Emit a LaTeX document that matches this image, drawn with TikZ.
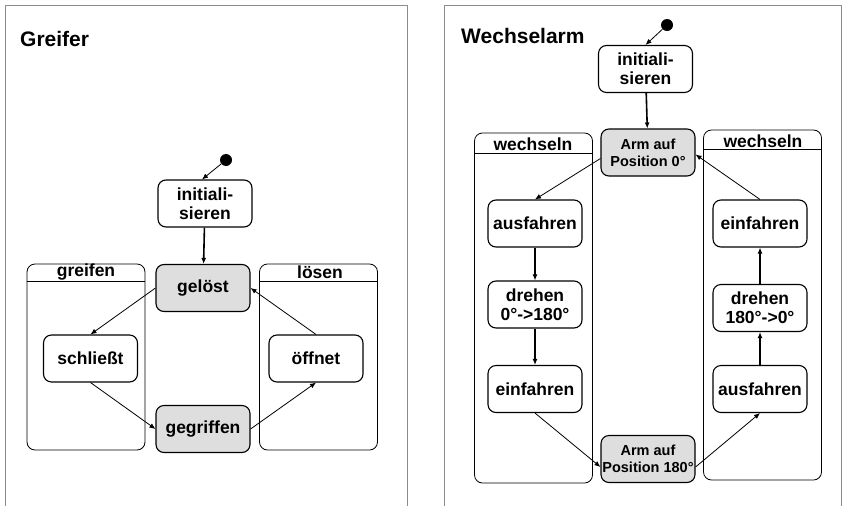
\documentclass[tikz,border=0pt]{standalone}
\usepackage{fontspec}
\setmainfont{Liberation Sans}
\usetikzlibrary{arrows.meta}

\tikzset{
  zustand/.style={draw, line width=1.1pt, rounded corners=8, minimum width=94, minimum height=47,
    inner sep=0pt, align=center, font=\fontsize{17.5}{19}\selectfont\bfseries},
  aktiv/.style={zustand, fill=black!13},
  armzustand/.style={aktiv, font=\fontsize{14.5}{17}\selectfont\bfseries},
  ober/.style={draw, line width=0.8pt, rounded corners=8, inner sep=0pt, minimum width=118},
  oberlabel/.style={inner sep=0pt, font=\fontsize{17.5}{19}\selectfont\bfseries},
  titel/.style={anchor=west, inner sep=0pt, font=\fontsize{21}{24}\selectfont\bfseries},
  start/.style={circle, fill=black, inner sep=0pt, minimum size=12},
  ueber/.style={-{Latex[length=6pt,width=5pt]}, line width=0.8pt},
  schritt/.style={-{Latex[length=6pt,width=5pt]}, line width=1.6pt},
}

\begin{document}
\begin{tikzpicture}[x=1pt,y=-1pt]
    \useasboundingbox (0,0) rectangle (842,506);

    % Rahmen
    \draw[black!45, line width=0.8pt] (5,506) -- (5,5) -- (407,5) -- (407,506);
    \draw[black!45, line width=0.8pt] (444,506) -- (444,5) -- (841,5) -- (841,506);

    % Greifer
    \node[titel] (tgreifer) at (20,39) {Greifer};

    \node[ober, minimum height=186] (greifen) at (86,357) {};
    \node[ober, minimum height=186] (loesen) at (318.5,357) {};
    \draw[line width=1.6pt] ([yshift=-18pt]greifen.north west) -- ([yshift=-18pt]greifen.north east);
    \draw[line width=1.6pt] ([yshift=-18pt]loesen.north west) -- ([yshift=-18pt]loesen.north east);
    \node[oberlabel] (lgreifen) at (86,272) {greifen};
    \node[oberlabel] (lloesen) at (320,272) {lösen};

    \node[start] (s1) at (226,160) {};
    \node[zustand] (init1) at (205,203.5) {initiali-\\sieren};
    \node[aktiv] (geloest) at (203,288) {gelöst};
    \node[zustand] (schliesst) at (90.5,358.5) {schließt};
    \node[zustand] (oeffnet) at (316,358.5) {öffnet};
    \node[aktiv] (gegriffen) at (203,429) {gegriffen};

    \path [ueber] (s1) edge ([xshift=-3pt]init1.north);
    \path [schritt] (init1) edge (geloest);
    \path [ueber] (geloest.west) edge (schliesst.north);
    \path [ueber] (schliesst.south) edge (gegriffen.west);
    \path [ueber] (gegriffen.east) edge (oeffnet.south);
    \path [ueber] (oeffnet.north) edge (geloest.east);

    % Wechselarm
    \node[titel] (twechsel) at (461,36) {Wechselarm};

    \node[ober, minimum height=350] (wechselnL) at (533.5,308) {};
    \node[ober, minimum height=350] (wechselnR) at (762.5,305) {};
    \draw[line width=1.6pt] ([yshift=-21pt]wechselnL.north west) -- ([yshift=-21pt]wechselnL.north east);
    \draw[line width=1.6pt] ([yshift=-20pt]wechselnR.north west) -- ([yshift=-20pt]wechselnR.north east);
    \node[oberlabel] (lwechselnL) at (533,144) {wechseln};
    \node[oberlabel] (lwechselnR) at (763,141) {wechseln};

    \node[start] (s2) at (667,25) {};
    \node[zustand] (init2) at (645.5,69) {initiali-\\sieren};
    \node[armzustand] (arm0) at (648,152.5) {Arm auf\\Position 0°};
    \node[armzustand] (arm180) at (648,459) {Arm auf\\Position 180°};

    \node[zustand] (ausL) at (535,223.5) {ausfahren};
    \node[zustand] (drehL) at (535,304.5) {drehen\\0°->180°};
    \node[zustand] (einL) at (535,389) {einfahren};

    \node[zustand] (einR) at (760,223.5) {einfahren};
    \node[zustand] (drehR) at (760,308) {drehen\\180°->0°};
    \node[zustand] (ausR) at (760,389) {ausfahren};

    \path [ueber] (s2) edge (init2.north);
    \path [schritt] (init2) edge (arm0);
    \path [ueber] ([yshift=-6pt]arm0.west) edge (ausL.north);
    \path [schritt] (ausL) edge (drehL);
    \path [schritt] (drehL) edge (einL);
    \path [ueber] (einL.south) edge ([yshift=-8pt]arm180.west);
    \path [ueber] ([yshift=-8pt]arm180.east) edge (ausR.south);
    \path [schritt] (ausR) edge (drehR);
    \path [schritt] (drehR) edge (einR);
    \path [ueber] (einR.north) edge ([yshift=-2pt]arm0.east);

\end{tikzpicture}
\end{document}
